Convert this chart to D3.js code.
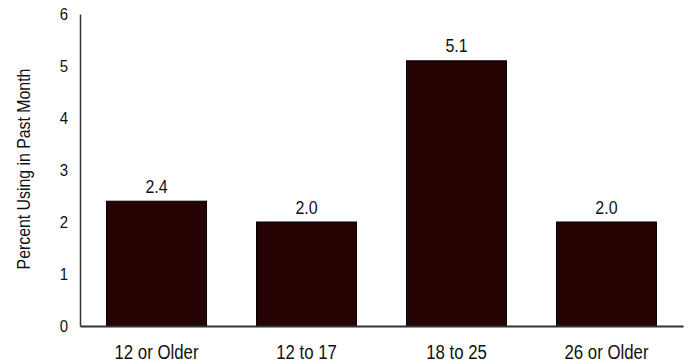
<!DOCTYPE html>
<html>
<head>
<meta charset="utf-8">
<script src="https://cdn.jsdelivr.net/npm/d3@7"></script>
<style>
  body { margin: 0; background: #fff; }
  svg text { font-family: "Liberation Sans", Arial, sans-serif; fill: #111; }
</style>
</head>
<body>
<svg id="chart"></svg>
<script>
const categories = ["12 or Older", "12 to 17", "18 to 25", "26 or Older"];
const values = [2.4, 2.0, 5.1, 2.0];
const valueLabels = ["2.4", "2.0", "5.1", "2.0"];
const yTicks = [0, 1, 2, 3, 4, 5, 6];
const yTitle = "Percent Using in Past Month";

const w = 690, h = 362;
const svg = d3.select("#chart").attr("width", w).attr("height", h);

// plot area
let plotLeft = 80, plotRight = 683, plotTop = 14, plotBottom = 326;

let x = d3.scaleBand().domain(categories).range([plotLeft, plotRight]).paddingInner(1 / 3).paddingOuter(0.177);
let y = d3.scaleLinear().domain([0, 6]).range([plotBottom, plotTop]);

// squeeze text horizontally to look like the narrow font of the original
function condense(sel, k) {
  sel.each(function () {
    const len = this.getComputedTextLength();
    d3.select(this)
      .attr("textLength", len * k)
      .attr("lengthAdjust", "spacingAndGlyphs");
  });
}

// bars
svg.append("g")
  .selectAll("rect")
  .data(values)
  .enter()
  .append("rect")
  .attr("x", (d, i) => x(categories[i]))
  .attr("y", (d) => y(d))
  .attr("width", x.bandwidth())
  .attr("height", (d) => y(0) - y(d))
  .attr("fill", "#270404")
  .attr("stroke", "#000")
  .attr("stroke-width", 1);

// value labels
svg.append("g")
  .selectAll("text")
  .data(values)
  .enter()
  .append("text")
  .attr("x", (d, i) => x(categories[i]) + x.bandwidth() / 2)
  .attr("y", (d) => y(d) - 8.5)
  .attr("text-anchor", "middle")
  .attr("font-size", 19)
  .text((d, i) => valueLabels[i])
  .call(condense, 0.84);

// y axis
const yAxis = svg.append("g")
  .attr("transform", "translate(" + plotLeft + ",0)")
  .call(d3.axisLeft(y).tickValues(yTicks).tickFormat(d3.format("d")).tickSize(0).tickPadding(12));
yAxis.select(".domain").attr("stroke", "#333").attr("stroke-width", 1.5);
yAxis.selectAll("text")
  .attr("font-size", 17)
  .attr("font-family", "Liberation Sans, sans-serif")
  .attr("fill", "#111")
  .call(condense, 0.88);

// x axis
const xAxis = svg.append("g")
  .attr("transform", "translate(0," + plotBottom + ")")
  .call(d3.axisBottom(x).tickSize(0).tickPadding(19));
xAxis.select(".domain").attr("stroke", "#333").attr("stroke-width", 2);
xAxis.selectAll("text")
  .attr("font-size", 20)
  .attr("font-family", "Liberation Sans, sans-serif")
  .attr("fill", "#111")
  .call(condense, 0.84);

// y title
svg.append("text")
  .attr("transform", "translate(30,169) rotate(-90)")
  .attr("text-anchor", "middle")
  .attr("font-size", 18)
  .text(yTitle)
  .call(condense, 0.88);
</script>
</body>
</html>
